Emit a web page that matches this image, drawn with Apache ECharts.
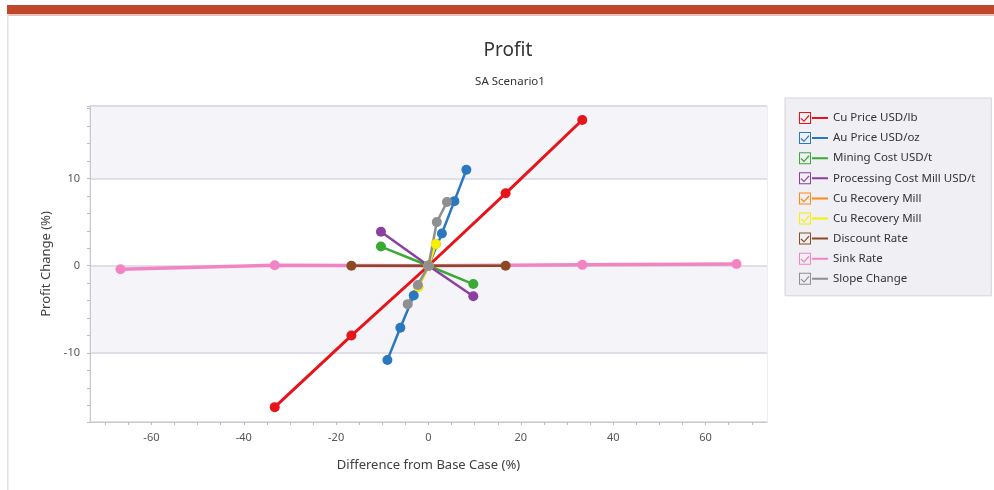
<!DOCTYPE html>
<html>
<head>
<meta charset="utf-8">
<script src="https://cdn.jsdelivr.net/npm/echarts@6/dist/echarts.min.js"></script>
<style>
  html, body { margin: 0; padding: 0; background: #fff; }
  #chart { width: 994px; height: 490px; }
</style>
</head>
<body>
<div id="chart"></div>
<script>
// 시리즈 데이터 [x: Difference from Base Case (%), y: Profit Change (%)]
const cuPrice = [[-33.3, -16.2], [-16.7, -8.0], [0, 0], [16.7, 8.3], [33.3, 16.7]];
const auPrice = [[-8.9, -10.8], [-6.1, -7.1], [-3.2, -3.4], [0, 0], [2.9, 3.7], [5.6, 7.4], [8.2, 11.0]];
const miningCost = [[-10.3, 2.2], [0, 0], [9.7, -2.1]];
const processingCost = [[-10.3, 3.9], [0, 0], [9.7, -3.5]];
const cuRecoveryA = [[-2.2, -2.4], [0, 0], [1.6, 2.5]];
const cuRecoveryB = [[-2.2, -2.4], [0, 0], [1.6, 2.5]];
const discountRate = [[-16.7, 0], [0, 0], [16.7, 0]];
const sinkRate = [[-66.7, -0.4], [-33.3, 0.05], [0, 0], [33.3, 0.1], [66.7, 0.2]];
const slopeChange = [[-4.5, -4.4], [-2.3, -2.2], [0, 0], [1.8, 5.0], [4.0, 7.3]];

// 축 눈금
const xLabels = [-60, -40, -20, 0, 20, 40, 60];
const xTicks = [-70, -65, -60, -55, -50, -45, -40, -35, -30, -25, -20, -15, -10, -5, 0, 5, 10, 15, 20, 25, 30, 35, 40, 45, 50, 55, 60, 65, 70];
const yLabels = [-10, 0, 10];
const yTicks = [-16, -14, -12, -10, -8, -6, -4, -2, 0, 2, 4, 6, 8, 10, 12, 14, 16, 18];

const FONT = 'Noto Sans';
const Y_MIN = -17.9;
const Y_MAX = 18.3;

// 범례 아이콘: 체크박스 + 짧은 선
const ICON = 'path://M0 0H12V12H0Z M1 1V11H11V1Z ' +
  'M2.4 5.9L5 8.4L9.5 3.1L10.5 4L5 10L1.5 6.8Z M13 5H29V7H13Z';

const legendNames = [
  'Cu Price USD/lb', 'Au Price USD/oz', 'Mining Cost USD/t', 'Processing Cost Mill USD/t',
  'Cu Recovery Mill', 'Cu Recovery Mill ', 'Discount Rate', 'Sink Rate', 'Slope Change',
];

function lineSeries(name, data, color, width) {
  return {
    name: name,
    type: 'line',
    data: data,
    color: color,
    symbol: 'circle',
    symbolSize: 10,
    lineStyle: { color: color, width: width || 2.5 },
    itemStyle: { color: color },
    emphasis: { disabled: true },
  };
}

const chart = echarts.init(document.getElementById('chart'));

const option = {
  animation: false,
  textStyle: { fontFamily: FONT },
  title: [
    {
      text: 'Profit',
      left: 503,
      top: 36,
      textAlign: 'center',
      textStyle: { fontFamily: FONT, fontSize: 19, fontWeight: 'normal', color: '#333' },
    },
    {
      text: 'SA Scenario1',
      left: 505,
      top: 71,
      textAlign: 'center',
      textStyle: { fontFamily: FONT, fontSize: 11.5, fontWeight: 'normal', color: '#333' },
    },
  ],
  legend: {
    orient: 'vertical',
    left: 785,
    top: 98,
    data: legendNames,
    icon: ICON,
    itemWidth: 29,
    itemHeight: 12,
    itemGap: 8.1,
    padding: [14, 16, 11, 14],
    backgroundColor: '#efeff4',
    borderColor: '#d4d4dc',
    borderWidth: 1,
    borderRadius: 0,
    textStyle: { fontFamily: FONT, fontSize: 11.5, color: '#333', padding: [0, 0, 0, 0] },
    selectedMode: false,
  },
  grid: {
    left: 90,
    right: 227,
    top: 106,
    bottom: 68,
    show: true,
    borderColor: '#dcdce4',
    borderWidth: 1,
  },
  xAxis: {
    type: 'value',
    min: -73.3,
    max: 73.3,
    name: 'Difference from Base Case (%)',
    nameLocation: 'middle',
    nameGap: 37,
    nameTextStyle: { fontFamily: FONT, fontSize: 13, color: '#404040' },
    axisLine: { show: true, onZero: false, lineStyle: { color: '#c8c8d0' } },
    axisTick: { show: true, length: 3, customValues: xTicks, lineStyle: { color: '#b8b8c0' } },
    axisLabel: { customValues: xLabels, fontSize: 11, color: '#555', margin: 10 },
    splitLine: { show: false },
  },
  yAxis: [
    {
      type: 'value',
      min: Y_MIN,
      max: Y_MAX,
      name: 'Profit Change (%)',
      nameLocation: 'middle',
      nameGap: 28,
      nameTextStyle: { fontFamily: FONT, fontSize: 13, color: '#404040' },
      axisLine: { show: true, onZero: false, lineStyle: { color: '#c8c8d0' } },
      // 구간 배경을 위해 축 양 끝도 포함
      axisTick: { show: true, length: 3, customValues: [Y_MIN].concat(yLabels, [Y_MAX]), lineStyle: { color: '#b8b8c0' } },
      axisLabel: { customValues: yLabels, fontSize: 11, color: '#555', margin: 10 },
      splitLine: { show: true, lineStyle: { color: '#d6d6e2', width: 1.5 } },
      splitArea: { show: true, areaStyle: { color: ['#ffffff', '#f5f5f9'] } },
    },
    {
      // 보조 눈금 전용 축
      type: 'value',
      position: 'left',
      min: Y_MIN,
      max: Y_MAX,
      axisLine: { show: false, onZero: false },
      axisTick: { show: true, length: 3, customValues: yTicks, lineStyle: { color: '#b8b8c0' } },
      axisLabel: { show: false },
      splitLine: { show: false },
      splitArea: { show: false },
    },
  ],
  graphic: [
    { type: 'rect', shape: { x: 7, y: 5, width: 987, height: 9 }, style: { fill: '#c1472b' } },
    { type: 'rect', shape: { x: 7, y: 14, width: 987, height: 2 }, style: { fill: '#e9c3b8' } },
    { type: 'rect', shape: { x: 7, y: 14, width: 1.5, height: 476 }, style: { fill: '#e2e2ea' } },
  ],
  series: [
    lineSeries('Sink Rate', sinkRate, '#f284c4', 3.5),
    lineSeries('Discount Rate', discountRate, '#8c4a22'),
    lineSeries('Cu Price USD/lb', cuPrice, '#e8141c', 3),
    lineSeries('Au Price USD/oz', auPrice, '#2a78c0'),
    lineSeries('Mining Cost USD/t', miningCost, '#3aaa35'),
    lineSeries('Processing Cost Mill USD/t', processingCost, '#8b3fa0'),
    lineSeries('Cu Recovery Mill', cuRecoveryA, '#ff8a14'),
    lineSeries('Cu Recovery Mill ', cuRecoveryB, '#f5f000'),
    lineSeries('Slope Change', slopeChange, '#8f8f8f'),
  ],
};

chart.setOption(option);
</script>
</body>
</html>
